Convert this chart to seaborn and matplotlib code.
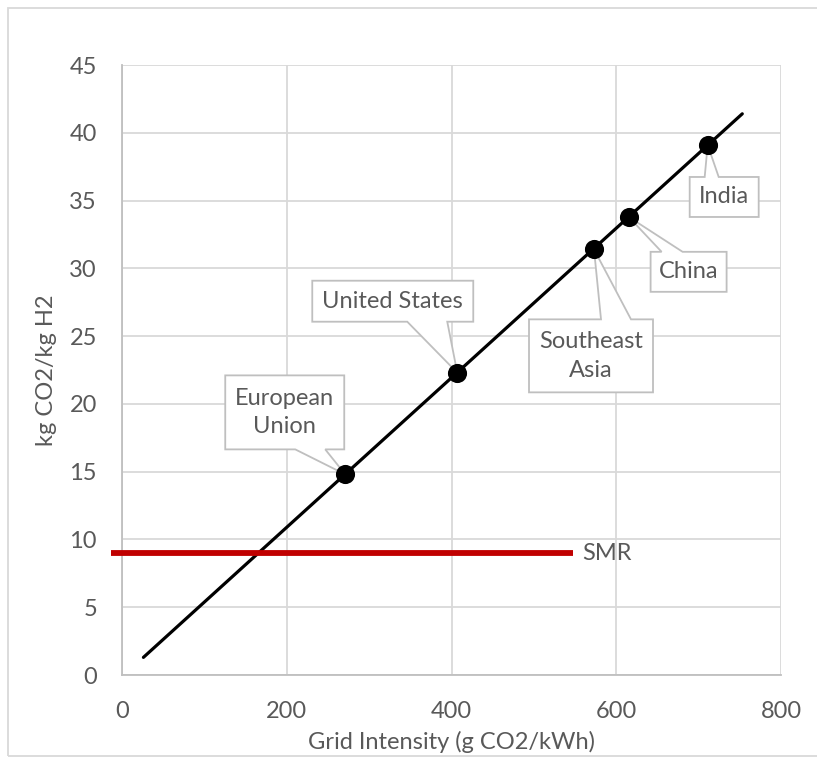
import numpy as np
import pandas as pd
import seaborn as sns
import matplotlib.pyplot as plt
from matplotlib.patches import Polygon, Rectangle
from matplotlib.transforms import IdentityTransform

# ---- data ----
regions = ["European\nUnion", "United States", "Southeast\nAsia", "China", "India"]
grid_intensity = [271, 407, 573, 615, 711]
kg_co2_per_kg_h2 = [14.8, 22.3, 31.4, 33.8, 39.1]
trend_x = [26, 753]
trend_y = [1.3, 41.4]
smr_x = [-13, 547]
smr_y = [9, 9]
smr_label = "SMR"
x_ticks = [0, 200, 400, 600, 800]
y_ticks = [0, 5, 10, 15, 20, 25, 30, 35, 40, 45]

# callout geometry in pixels relative to point: (left, right, top, bottom, wedge_a, wedge_b, side)
callouts = [
    (-120, -1, -99, -25, -50, -20, "bottom"),
    (-145, 16, -92, -51, -50, -10, "bottom"),
    (-65, 59, 70, 143, 7, 37, "top"),
    (22, 98, 35, 75, 33, 54, "top"),
    (-18, 51, 32, 72, -3, 11, "top"),
]

sns.set_theme(style="white")
plt.rcParams['font.family'] = ['Lato', 'DejaVu Sans']
FS = 17

W, H = 817, 760
fig = plt.figure(figsize=(W / 100, H / 100), dpi=100)
L, R, T, B = 122, 781, 65, 675
ax = fig.add_axes([L / W, 1 - B / H, (R - L) / W, (B - T) / H])

df_pts = pd.DataFrame({"x": grid_intensity, "y": kg_co2_per_kg_h2, "region": regions})
df_line = pd.DataFrame({"x": trend_x, "y": trend_y})
df_smr = pd.DataFrame({"x": smr_x, "y": smr_y})

sns.lineplot(data=df_line, x="x", y="y", ax=ax, color="black", lw=2.3, zorder=3)
sns.lineplot(data=df_smr, x="x", y="y", ax=ax, color="#c00000", lw=4.2, zorder=3,
             clip_on=False, solid_capstyle="butt")
sns.scatterplot(data=df_pts, x="x", y="y", ax=ax, color="black", s=190,
                edgecolor="black", linewidth=0, zorder=4)

ax.set_xlim(0, 800)
ax.set_ylim(0, 45)
ax.set_xticks(x_ticks)
ax.set_yticks(y_ticks)
ax.grid(True, color="#d9d9d9", lw=1.3)
for s in ["top", "right"]:
    ax.spines[s].set_visible(False)
for s in ["left", "bottom"]:
    ax.spines[s].set_color("#bfbfbf")
    ax.spines[s].set_linewidth(1.3)
ax.tick_params(length=0, labelsize=FS, labelcolor="#595959")
ax.tick_params(axis="y", pad=18)
ax.tick_params(axis="x", pad=19)
ax.set_xlabel("Grid Intensity (g CO2/kWh)", fontsize=FS, color="#595959", labelpad=6)
ax.set_ylabel("kg CO2/kg H2", fontsize=FS, color="#595959", labelpad=9)

ax.text(smr_x[1] + 12, smr_y[0], smr_label, fontsize=FS, color="#595959",
        va="center", ha="left")

# callouts
ident = IdentityTransform()
for (xv, yv, lab), (l, r, t, b, wa, wb, side) in zip(zip(grid_intensity, kg_co2_per_kg_h2, regions), callouts):
    px, py = ax.transData.transform((xv, yv))
    left, right = px + l, px + r
    top, bottom = py - t, py - b
    if side == "bottom":
        verts = [(left, top), (right, top), (right, bottom), (px + wb, bottom),
                 (px, py), (px + wa, bottom), (left, bottom)]
    else:
        verts = [(left, top), (px + wa, top), (px, py), (px + wb, top), (right, top),
                 (right, bottom), (left, bottom)]
    poly = Polygon(verts, closed=True, facecolor="white", edgecolor="#bfbfbf",
                   lw=1.3, transform=ident, zorder=3.5, clip_on=False)
    ax.add_patch(poly)
    ax.text((left + right) / 2, (top + bottom) / 2, lab, transform=ident,
            ha="center", va="center", fontsize=FS, color="#595959",
            linespacing=1.45, zorder=3.6)

# outer chart border
fig.add_artist(Rectangle((8 / W, 1 - 756 / H), 1.0, (756 - 8) / H, transform=fig.transFigure,
                         facecolor="none", edgecolor="#d9d9d9", lw=1.3))

fig.savefig("out.png", dpi=100)
